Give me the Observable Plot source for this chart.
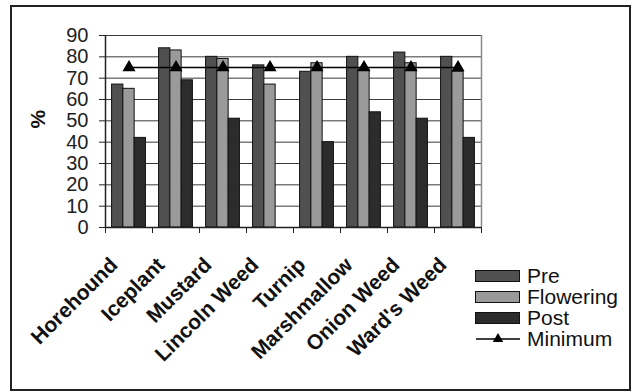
<!DOCTYPE html>
<html>
<head>
<meta charset="utf-8">
<script src="https://cdn.jsdelivr.net/npm/d3@7"></script>
<script src="https://cdn.jsdelivr.net/npm/@observablehq/plot@0.6"></script>
<style>
  html, body { margin: 0; padding: 0; background: #fff; }
  #chart { position: relative; width: 632px; height: 392px; font-family: "Liberation Sans", Arial, sans-serif; }
  #chart svg { position: absolute; left: 0; top: 0; }
  #border { position: absolute; left: 10px; top: 5px; width: 621px; height: 386px; box-sizing: border-box; border: 2px solid #222; pointer-events: none; }
  #legend { position: absolute; left: 475px; top: 265px; font-size: 21px; color: #111; }
  #legend .row { display: flex; align-items: center; height: 21px; white-space: nowrap; }
  #legend .sw { width: 45px; height: 12px; box-sizing: border-box; border: 1px solid #111; margin-right: 7px; }
  #legend svg { position: static; margin-right: 7px; }
</style>
</head>
<body>
<div id="chart"><div id="border"></div><div id="legend"></div></div>
<script>
// Germination (%) by weed species and seed maturity stage
const categories = ["Horehound", "Iceplant", "Mustard", "Lincoln Weed", "Turnip", "Marshmallow", "Onion Weed", "Ward's Weed"];
const seriesNames = ["Pre", "Flowering", "Post"];
const pre = [67, 84, 80, 76, 73, 80, 82, 80];
const flowering = [65, 83, 79, 67, 77, 74, 77, 73];
const post = [42, 69, 51, null, 40, 54, 51, 42];
const minimum = [75, 75, 75, 75, 75, 75, 75, 75];
const minimumName = "Minimum";
const yTicks = [0, 10, 20, 30, 40, 50, 60, 70, 80, 90];
const seriesColors = ["#505050", "#9a9a9a", "#2c2c2c"];

// Clustered bars: each category owns one unit on x, split into a gap and three bars
const groupGap = 0.14;
const barWidth = (1 - 2 * groupGap) / seriesNames.length;

const seriesValues = [pre, flowering, post];
const bars = categories.flatMap((category, i) =>
  seriesValues.map((values, j) => ({category, i, j, series: seriesNames[j], value: values[i]}))
).filter(d => d.value != null);

const minRows = categories.map((category, i) => ({category, i, value: minimum[i]}));
const boundaries = categories.map((_, i) => i).concat(categories.length);

const chart = Plot.plot({
  width: 632,
  height: 392,
  marginLeft: 105,
  marginRight: 151,
  marginTop: 35,
  marginBottom: 165,
  style: {fontFamily: "'Liberation Sans', Arial, sans-serif", fontSize: "20px", color: "#222", background: "transparent", overflow: "visible"},
  x: {domain: [0, categories.length]},
  y: {domain: [0, 90]},
  color: {domain: seriesNames, range: seriesColors},
  marks: [
    Plot.ruleY(yTicks.filter(v => v > 0), {stroke: "#3a3a3a", strokeWidth: 1}),
    Plot.ruleX([categories.length], {stroke: "#8a8a8a", strokeWidth: 1.5}),
    Plot.rectY(bars, {
      x1: d => d.i + groupGap + d.j * barWidth,
      x2: d => d.i + groupGap + (d.j + 1) * barWidth,
      y: "value",
      fill: "series",
      stroke: "#111",
      strokeWidth: 1
    }),
    Plot.line(minRows, {x: d => d.i + 0.5, y: "value", stroke: "#000", strokeWidth: 1.5}),
    Plot.dot(minRows, {x: d => d.i + 0.5, y: "value", symbol: "triangle", r: 3.9, fill: "#000", stroke: "#000"}),
    Plot.ruleX([0], {stroke: "#222", strokeWidth: 1.5}),
    Plot.ruleY([0], {stroke: "#222", strokeWidth: 1.5}),
    Plot.axisY(yTicks, {tickSize: 6, tickPadding: 11, fontSize: 20, label: null, tickFormat: d => String(d)}),
    Plot.axisX(boundaries, {tickSize: 6, tickFormat: () => "", label: null}),
    Plot.text(categories, {
      x: (d, i) => i + 0.5,
      frameAnchor: "bottom",
      rotate: -45,
      textAnchor: "end",
      lineAnchor: "middle",
      dx: -15,
      dy: 34,
      fontSize: 21,
      fontWeight: "bold",
      fill: "#111"
    }),
    Plot.text(["%"], {frameAnchor: "left", rotate: -90, dx: -67, dy: -3, fontSize: 21, fontWeight: "bold", fill: "#111"})
  ]
});

document.getElementById("chart").prepend(chart);

// Legend: three bar swatches and the minimum line with its marker
const legend = d3.select("#legend");
seriesNames.forEach((name, j) => {
  const row = legend.append("div").attr("class", "row");
  row.append("div").attr("class", "sw").style("background", seriesColors[j]);
  row.append("span").text(name);
});
const minRow = legend.append("div").attr("class", "row");
const sym = minRow.append("svg").attr("width", 45).attr("height", 14);
sym.append("line").attr("x1", 1).attr("x2", 45).attr("y1", 7).attr("y2", 7).attr("stroke", "#000").attr("stroke-width", 1.5);
sym.append("path").attr("transform", "translate(23,7)").attr("d", d3.symbol(d3.symbolTriangle, 48)()).attr("fill", "#000");
minRow.append("span").text(minimumName);
</script>
</body>
</html>
